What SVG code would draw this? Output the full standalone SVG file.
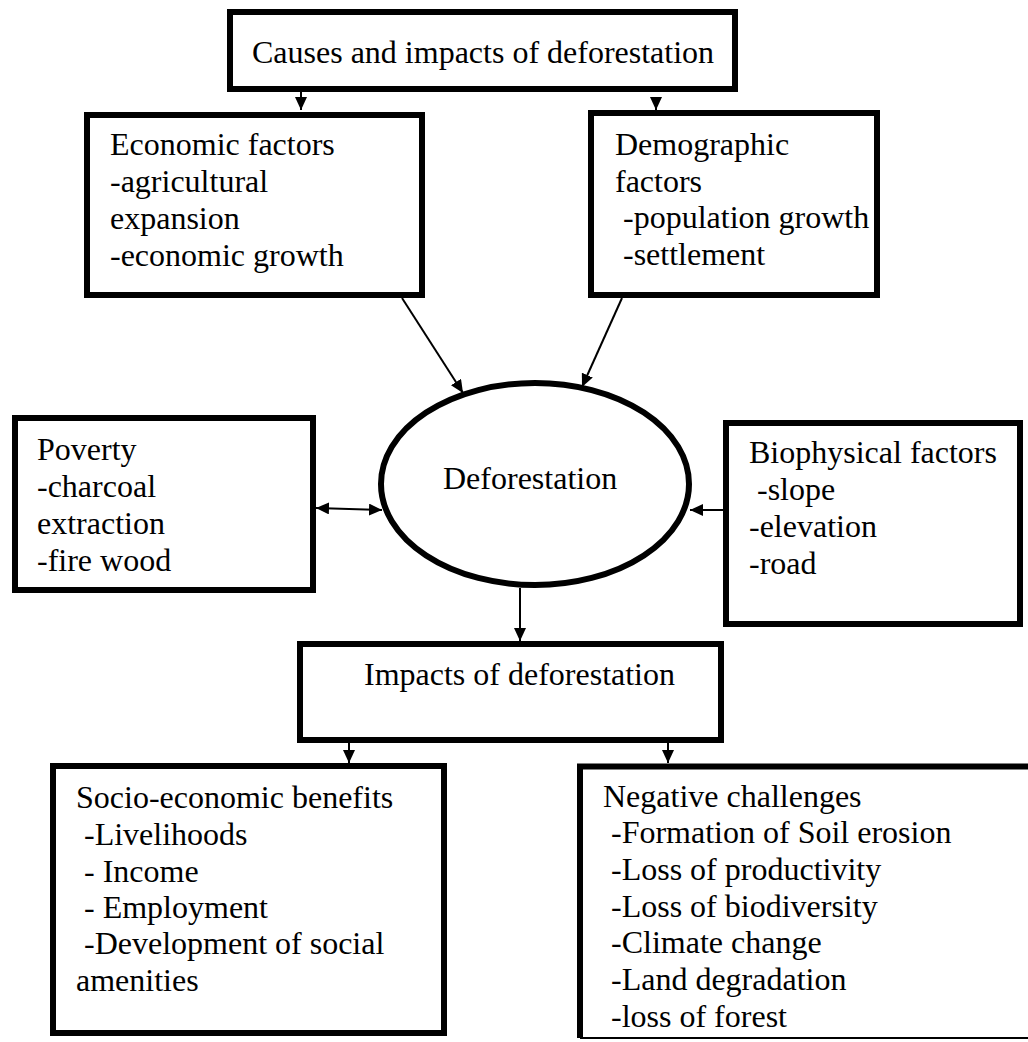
<svg xmlns="http://www.w3.org/2000/svg" width="1028" height="1042" viewBox="0 0 1028 1042" xml:space="preserve">
<style>
.box{fill:#fff;stroke:#000;stroke-width:6}
.t{font-family:"Liberation Serif","Times New Roman",serif;font-size:32px;fill:#000;white-space:pre}
.c{stroke:#000;stroke-width:2;fill:none}
</style>
<defs>
<marker id="ah" viewBox="0 0 13 12" refX="13" refY="6" markerWidth="13" markerHeight="12" markerUnits="userSpaceOnUse" orient="auto-start-reverse">
<path d="M0,0 L13,6 L0,12 z" fill="#000"/>
</marker>
</defs>
<rect width="1028" height="1042" fill="#fff"/>
<g id="connectors">
<line class="c" x1="301" y1="92" x2="301" y2="110" marker-end="url(#ah)"/>
<line class="c" x1="656" y1="98" x2="656" y2="110" marker-end="url(#ah)"/>
<line class="c" x1="402" y1="298" x2="463" y2="393" marker-end="url(#ah)"/>
<line class="c" x1="622" y1="298" x2="582" y2="387" marker-end="url(#ah)"/>
<line class="c" x1="316" y1="508" x2="382" y2="510" marker-start="url(#ah)" marker-end="url(#ah)"/>
<line class="c" x1="723" y1="510" x2="690" y2="510" marker-end="url(#ah)"/>
<line class="c" x1="520" y1="588" x2="520" y2="641" marker-end="url(#ah)"/>
<line class="c" x1="349" y1="743" x2="349" y2="763" marker-end="url(#ah)"/>
<line class="c" x1="668" y1="743" x2="668" y2="763" marker-end="url(#ah)"/>
</g>
<g id="title">
<rect class="box" x="230" y="12" width="505" height="77"/>
<text class="t" x="252" y="63">Causes and impacts of deforestation</text>
</g>
<g id="economic">
<rect class="box" x="87" y="115" width="335" height="180"/>
<text class="t" x="110" y="155">Economic factors</text>
<text class="t" x="110" y="192">-agricultural</text>
<text class="t" x="110" y="229">expansion</text>
<text class="t" x="110" y="266">-economic growth</text>
</g>
<g id="demographic">
<rect class="box" x="591" y="113" width="286" height="182"/>
<text class="t" x="615" y="155">Demographic</text>
<text class="t" x="615" y="192">factors</text>
<text class="t" x="615" y="228"> -population growth</text>
<text class="t" x="615" y="265"> -settlement</text>
</g>
<g id="deforestation">
<ellipse class="box" cx="535" cy="484" rx="154" ry="101"/>
<text class="t" x="443" y="489">Deforestation</text>
</g>
<g id="poverty">
<rect class="box" x="15" y="418" width="298" height="172"/>
<text class="t" x="37" y="460">Poverty</text>
<text class="t" x="37" y="497">-charcoal</text>
<text class="t" x="37" y="534">extraction</text>
<text class="t" x="37" y="571">-fire wood</text>
</g>
<g id="biophysical">
<rect class="box" x="726" y="423" width="294" height="201"/>
<text class="t" x="749" y="463">Biophysical factors</text>
<text class="t" x="749" y="500"> -slope</text>
<text class="t" x="749" y="537">-elevation</text>
<text class="t" x="749" y="574">-road</text>
</g>
<g id="impacts">
<rect class="box" x="300" y="644" width="421" height="96"/>
<text class="t" x="364" y="685">Impacts of deforestation</text>
</g>
<g id="socio">
<rect class="box" x="53" y="766" width="391" height="267"/>
<text class="t" x="76" y="808">Socio-economic benefits</text>
<text class="t" x="76" y="845"> -Livelihoods</text>
<text class="t" x="76" y="882"> - Income</text>
<text class="t" x="76" y="918"> - Employment</text>
<text class="t" x="76" y="954"> -Development of social</text>
<text class="t" x="76" y="991">amenities</text>
</g>
<g id="negative">
<rect x="580" y="766" width="460" height="272" fill="#fff"/>
<path d="M1040,766.5 H580 V1038" fill="none" stroke="#000" stroke-width="6"/>
<line x1="580" y1="1038" x2="1040" y2="1038" stroke="#000" stroke-width="2"/>
<text class="t" x="603" y="807">Negative challenges</text>
<text class="t" x="603" y="843"> -Formation of Soil erosion</text>
<text class="t" x="603" y="880"> -Loss of productivity</text>
<text class="t" x="603" y="917"> -Loss of biodiversity</text>
<text class="t" x="603" y="953"> -Climate change</text>
<text class="t" x="603" y="990"> -Land degradation</text>
<text class="t" x="603" y="1027"> -loss of forest</text>
</g>
</svg>
